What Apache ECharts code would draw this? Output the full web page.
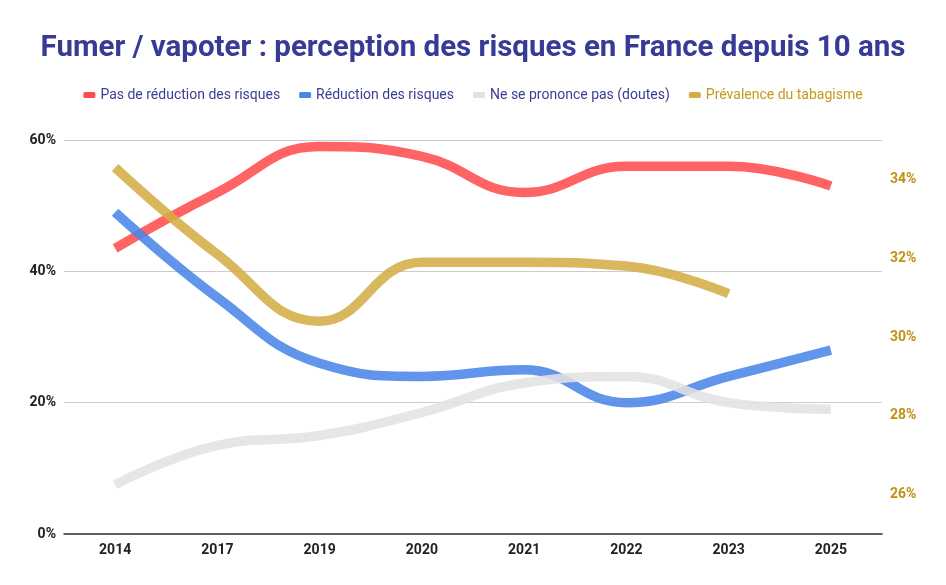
<!DOCTYPE html>
<html>
<head>
<meta charset="utf-8">
<script src="https://cdn.jsdelivr.net/npm/echarts@6/dist/echarts.min.js"></script>
<style>
  html, body { margin: 0; padding: 0; background: #fff; }
  #chart { width: 946px; height: 585px; }
</style>
</head>
<body>
<div id="chart"></div>
<script>
// données
const years = ['2014', '2017', '2019', '2020', '2021', '2022', '2023', '2025'];
const pasDeReduction = [43.5, 52, 59, 57.5, 52, 56, 56, 53];
const reduction = [49, 36, 26, 24, 25, 20, 24, 28];
const neSePrononcePas = [7.5, 13.5, 15, 18.5, 23, 24, 20, 19];
const prevalence = [34.3, 32.1, 30.4, 31.9, 31.9, 31.8, 31.1, null];

const seriesNames = [
  'Pas de réduction des risques',
  'Réduction des risques',
  'Ne se prononce pas (doutes)',
  'Prévalence du tabagisme'
];
const colors = ['#ff4d4f', '#4a86e8', '#e2e2e2', '#d4ad45'];
const legendColors = ['#3a3d94', '#3a3d94', '#3a3d94', '#c59a1c'];

const chart = echarts.init(document.getElementById('chart'));

const makeLine = (name, data, color, axis) => ({
  name,
  type: 'line',
  yAxisIndex: axis,
  data,
  smooth: 0.45,
  symbol: 'none',
  connectNulls: false,
  lineStyle: { width: 9.5, color, opacity: 0.88, cap: 'butt' },
  itemStyle: { color }
});

chart.setOption({
  animation: false,
  textStyle: { fontFamily: 'Roboto, sans-serif' },
  title: {
    text: 'Fumer / vapoter : perception des risques en France depuis 10 ans',
    left: 'center',
    top: 29,
    textStyle: { fontSize: 29.5, fontWeight: 'bold', color: '#373b96', fontFamily: 'Roboto' }
  },
  legend: {
    top: 83,
    left: 'center',
    icon: 'roundRect',
    itemWidth: 12,
    itemHeight: 6,
    itemGap: 19,
    textStyle: { fontSize: 14, fontFamily: 'Roboto' },
    data: seriesNames.map((n, i) => ({ name: n, textStyle: { color: legendColors[i] } }))
  },
  grid: { left: 64, right: 64, top: 140, bottom: 51 },
  xAxis: {
    type: 'category',
    data: years,
    boundaryGap: true,
    axisTick: { show: false },
    axisLine: { lineStyle: { color: '#333', width: 1.5 } },
    axisLabel: { color: '#222', fontWeight: 'bold', fontSize: 14, margin: 9 }
  },
  yAxis: [
    {
      type: 'value',
      min: 0,
      max: 60,
      interval: 20,
      axisLabel: { formatter: '{value}%', color: '#222', fontWeight: 'bold', fontSize: 14, margin: 8 },
      axisLine: { show: false },
      axisTick: { show: false },
      splitLine: { lineStyle: { color: '#cccccc' } }
    },
    {
      type: 'value',
      min: 25,
      max: 35,
      interval: 1,
      position: 'right',
      axisLabel: {
        formatter: v => (v % 2 === 0 && v > 25 && v < 35) ? v + '%' : '',
        color: '#bf9213',
        fontWeight: 'bold',
        fontSize: 14,
        margin: 8
      },
      axisLine: { show: false },
      axisTick: { show: false },
      splitLine: { show: false }
    }
  ],
  series: [
    makeLine(seriesNames[0], pasDeReduction, colors[0], 0),
    makeLine(seriesNames[1], reduction, colors[1], 0),
    makeLine(seriesNames[2], neSePrononcePas, colors[2], 0),
    makeLine(seriesNames[3], prevalence, colors[3], 1)
  ]
});
</script>
</body>
</html>
